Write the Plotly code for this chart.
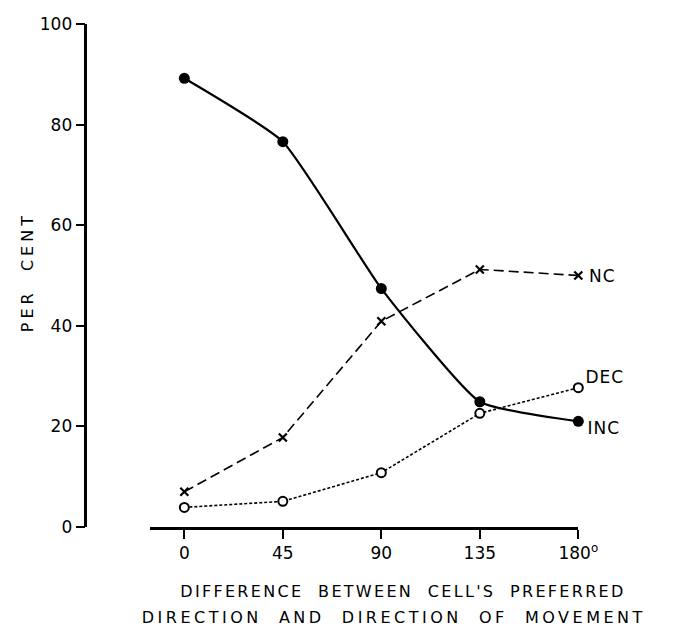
import plotly.graph_objects as go

# ---- data ----
angles = [0, 45, 90, 135, 180]
tick_labels = ["0", "45", "90", "135", "180<sup>o</sup>"]
inc = [89.2, 76.6, 47.4, 24.9, 21.0]
nc = [7.0, 17.8, 40.9, 51.2, 50.0]
dec = [3.9, 5.1, 10.8, 22.6, 27.7]
y_ticks = [0, 20, 40, 60, 80, 100]
series_names = ["INC", "NC", "DEC"]

W, H = 674, 631
L, R, T, B = 0, 0, 24, 104
FONT = "DejaVu Sans"


def px(xpix):
    return (xpix - L) / (W - L - R)


def py(ypix):
    return (H - B - ypix) / (H - T - B)


fig = go.Figure()

fig.add_trace(go.Scatter(
    x=angles, y=nc, mode="lines+markers", name="NC",
    line=dict(color="black", width=1.6, dash="10px,5px"),
    marker=dict(symbol="x-thin", size=8, line=dict(color="black", width=2.2)),
    cliponaxis=False))
fig.add_trace(go.Scatter(
    x=angles, y=dec, mode="lines+markers", name="DEC",
    line=dict(color="black", width=1.6, dash="3px,2px"),
    marker=dict(symbol="circle", size=9, color="white", line=dict(color="black", width=2)),
    cliponaxis=False))
fig.add_trace(go.Scatter(
    x=angles, y=inc, mode="lines+markers", name="INC",
    line=dict(color="black", width=2.2, shape="spline", smoothing=0.45),
    marker=dict(symbol="circle", size=11, color="black"),
    cliponaxis=False))

# series labels at line ends
label_shift = {"NC": (10, 0), "DEC": (7, 11), "INC": (9, -7)}
ends = {"INC": inc[-1], "NC": nc[-1], "DEC": dec[-1]}
for nm in series_names:
    dx, dy = label_shift[nm]
    fig.add_annotation(x=angles[-1], y=ends[nm], text=nm, showarrow=False,
                       xanchor="left", yanchor="middle", xshift=dx, yshift=dy,
                       font=dict(family=FONT, size=17, color="black"))

# axis titles as annotations
fig.add_annotation(x=px(28), y=py(272), xref="paper", yref="paper",
                   text="PER  CENT", textangle=-90, showarrow=False,
                   xanchor="center", yanchor="middle",
                   font=dict(family=FONT, size=16, color="black"))
fig.add_annotation(x=px(415), y=py(591), xref="paper", yref="paper",
                   text="DIFFERENCE  BETWEEN  CELL'S  PREFERRED", showarrow=False,
                   xanchor="center", yanchor="middle",
                   font=dict(family=FONT, size=16, color="black"))
fig.add_annotation(x=px(406), y=py(617), xref="paper", yref="paper",
                   text="DIRECTION  AND  DIRECTION  OF  MOVEMENT", showarrow=False,
                   xanchor="center", yanchor="middle",
                   font=dict(family=FONT, size=16, color="black"))

fig.update_layout(
    width=W, height=H,
    margin=dict(l=L, r=R, t=T, b=B),
    paper_bgcolor="white", plot_bgcolor="white",
    showlegend=False,
    font=dict(family=FONT, size=17, color="black"),
    xaxis=dict(domain=[px(155), px(596)], range=[-15.5, 180],
               tickvals=angles, ticktext=tick_labels,
               showline=True, linecolor="black", linewidth=2.5,
               ticks="outside", ticklen=9, tickwidth=2, tickcolor="black",
               showgrid=False, zeroline=False, fixedrange=True,
               tickfont=dict(family=FONT, size=17)),
    yaxis=dict(anchor="free", position=px(88), range=[0, 100],
               tickvals=y_ticks,
               showline=True, linecolor="black", linewidth=2.5,
               ticks="outside", ticklen=9, tickwidth=2, tickcolor="black",
               showgrid=False, zeroline=False, fixedrange=True,
               tickfont=dict(family=FONT, size=17)),
)

post = """
document.body.style.margin = '0';
document.body.style.overflow = 'hidden';
var gd = document.getElementById('{plot_id}');
function sp(){
  gd.querySelectorAll('.annotation-text').forEach(function(t){
    var s = t.textContent;
    if (s.indexOf('DIFFERENCE') >= 0) t.style.letterSpacing = '2.3px';
    else if (s.indexOf('DIRECTION') >= 0) t.style.letterSpacing = '3.5px';
    else if (s.indexOf('PER') >= 0) t.style.letterSpacing = '4px';
    else if (s.length <= 3) t.style.letterSpacing = '1px';
  });
}
sp();
"""

fig.write_html("out.html", post_script=post, config={"displayModeBar": False})
